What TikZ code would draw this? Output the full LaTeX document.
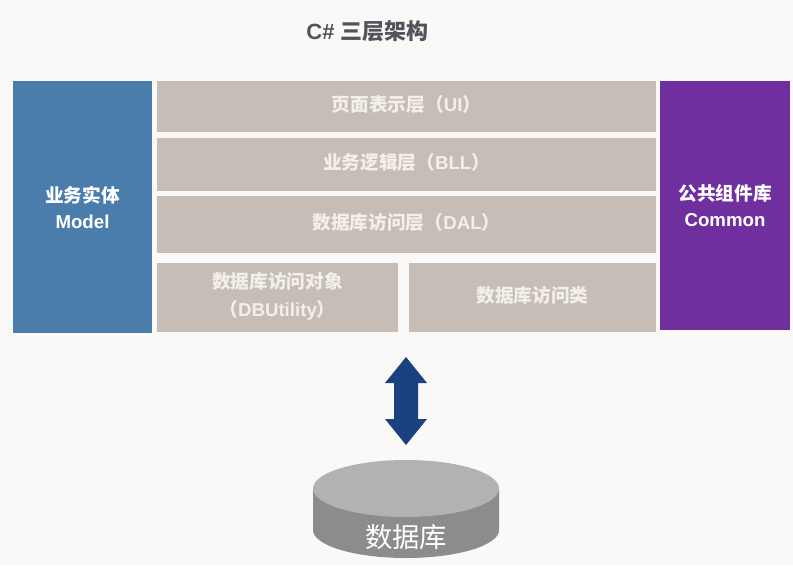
\documentclass[tikz,border=0pt]{standalone}
\usepackage{fontspec}
\setmainfont{Liberation Sans}
\newfontfamily\cjk{Noto Sans CJK SC}
\definecolor{pagebg}{HTML}{FAF9F8}
\definecolor{modelblue}{HTML}{4A7DAC}
\definecolor{layertan}{HTML}{C6BDB6}
\definecolor{commonpurple}{HTML}{6F2F9F}
\definecolor{arrowblue}{HTML}{1C4180}
\definecolor{dbtop}{HTML}{B2B2B2}
\definecolor{dbside}{HTML}{8C8C8C}
\definecolor{titlegray}{HTML}{55525C}
\definecolor{layertext}{HTML}{F3EFEB}
\tikzset{
	layer/.style = {fill = layertan, text = layertext, inner sep = 0, text depth = 5pt, align = center, font = \fontsize{14}{21}\selectfont\bfseries\cjk},
	side/.style = {text = white, inner sep = 0, align = center, font = \fontsize{14}{19.5}\selectfont\bfseries\cjk}
}
\begin{document}
\begin{tikzpicture}[x = 0.75pt, y = -0.75pt]
	\useasboundingbox[fill = pagebg] (0, 0) rectangle (793, 565);
	\node[font = \fontsize{16.5}{20}\selectfont\bfseries, text = titlegray, inner sep = 0] (title) at (367.5, 31) {C\# {\cjk 三层架构}};
	% left and right columns
	\node[side, fill = modelblue, minimum width = 104.25pt, minimum height = 189pt] (model) at (82.5, 207) {业务实体\\{\rmfamily Model}};
	\node[side, fill = commonpurple, minimum width = 97.5pt, minimum height = 186.75pt] (common) at (725, 205.5) {公共组件库\\{\rmfamily Common}};
	% layers
	\node[layer, minimum width = 374.25pt, minimum height = 38.25pt] (ui) at (406.5, 106.5) {页面表示层（{\rmfamily UI}）};
	\node[layer, minimum width = 374.25pt, minimum height = 39.75pt] (bll) at (406.5, 164.5) {业务逻辑层（{\rmfamily BLL}）};
	\node[layer, minimum width = 374.25pt, minimum height = 42.75pt] (dal) at (406.5, 224.5) {数据库访问层（{\rmfamily DAL}）};
	\node[layer, minimum width = 180.75pt, minimum height = 51.75pt] (dbutility) at (277.5, 297.5) {数据库访问对象\\（{\rmfamily DBUtility}）};
	\node[layer, minimum width = 185.25pt, minimum height = 51.75pt] (dbclass) at (532.5, 297.5) {数据库访问类};
	% arrow
	\fill[arrowblue] (406, 357) -- ++(21, 26) -- ++(-9, 0) -- ++(0, 36) -- ++(9, 0) -- ++(-21, 26) -- ++(-21, -26) -- ++(9, 0) -- ++(0, -36) -- ++(-9, 0) -- cycle;
	% database
	\fill[dbside] (313, 490) -- (313, 530) arc[start angle = 180, end angle = 360, x radius = 93, y radius = -28] -- (499, 490) -- cycle;
	\fill[dbtop] (406, 488.5) ellipse[x radius = 93, y radius = 28.5];
	\node[text = white, inner sep = 0, font = \fontsize{20.5}{24}\selectfont\cjk] (db) at (406, 537) {数据库};
\end{tikzpicture}
\end{document}
